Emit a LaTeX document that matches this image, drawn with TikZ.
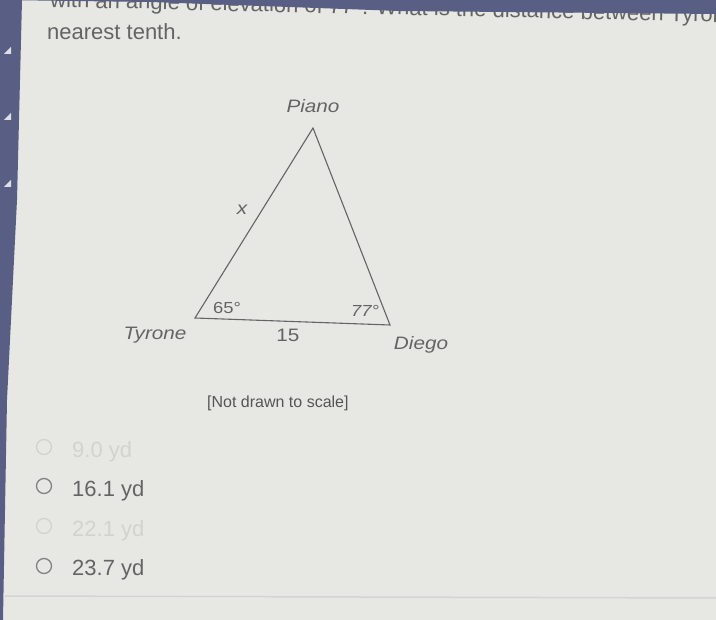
\documentclass[tikz,border=0pt]{standalone}
\usepackage{fontspec}
\setmainfont{Liberation Sans}
\newfontfamily\labf[FakeStretch=1.15]{Liberation Sans}
\definecolor{bg}{RGB}{231,232,228}
\definecolor{ink}{RGB}{100,100,100}
\definecolor{faint}{RGB}{210,211,207}
\definecolor{slate}{RGB}{88,94,132}
\definecolor{rulec}{RGB}{210,213,211}
\begin{document}
\begin{tikzpicture}[x=1pt,y=-1pt,
  lab/.style={text=ink,inner sep=0pt,font=\labf\itshape\fontsize{18}{20}\selectfont},
  body/.style={text=ink,inner sep=0pt,anchor=base west,font=\fontsize{22}{26}\selectfont},
  radio/.style={circle,draw=#1,line width=1.3pt,minimum size=15pt,inner sep=0pt},
  opt/.style={text=#1,inner sep=0pt,anchor=base west,font=\fontsize{22}{26}\selectfont},
  tri/.style={draw=ink,line width=1.1pt,line join=miter}]
\fill[bg] (0,0) rectangle (716,620);
\useasboundingbox (0,0) rectangle (716,620);
\begin{scope}
\clip (0,0) rectangle (716,620);
\node[body,rotate=-1.3] (q1) at (50,7) {with an angle of elevation of 77°. What is the distance between Tyrone and the piano};
\end{scope}
% top band and left strip
\fill[slate] (0,0) -- (716,0) -- (716,14) -- (400,11) -- (150,2) -- (0,0) -- cycle;
\fill[slate] (0,0) -- (22,0) -- (17,200) -- (7,400) -- (3,620) -- (0,620) -- cycle;
\foreach \yy in {54,120,187}{
  \fill[white!80!slate] (4,\yy) -- (11,\yy) -- (11,\yy-7) -- cycle;
}
\node[body] (q2) at (47,40) {nearest tenth.};
% triangle
\coordinate (T) at (195,318);
\coordinate (P) at (313,128);
\coordinate (D) at (390,325);
\draw[tri] (T) -- (P) -- (D) -- cycle;
\node[lab] (piano) at (313,106) {Piano};
\node[lab] (x) at (242,210) {x};
\node[lab,font=\labf\fontsize{16}{18}\selectfont] (a65) at (227,308) {65°};
\node[lab,font=\labf\itshape\fontsize{16}{18}\selectfont] (a77) at (365,311) {77°};
\node[lab] (tyrone) at (155,335) {Tyrone};
\node[lab,font=\labf\fontsize{18}{20}\selectfont] (s15) at (288,335) {15};
\node[lab] (diego) at (421,345) {Diego};
\node[text=ink!85!black,inner sep=0pt,anchor=base west,font=\fontsize{16}{18}\selectfont] (nd) at (207,408) {[Not drawn to scale]};
% options
\node[radio=faint] (r1) at (44,447) {};
\node[opt=faint] (o1) at (72,458) {9.0 yd};
\node[radio=ink!80] (r2) at (44,486) {};
\node[opt=ink] (o2) at (72,497) {16.1 yd};
\node[radio=faint] (r3) at (44,526) {};
\node[opt=faint] (o3) at (72,537) {22.1 yd};
\node[radio=ink!80] (r4) at (44,566) {};
\node[opt=ink] (o4) at (72,576) {23.7 yd};
\draw[rulec,line width=1.5pt] (5,596) -- (716,598);
\end{tikzpicture}
\end{document}
